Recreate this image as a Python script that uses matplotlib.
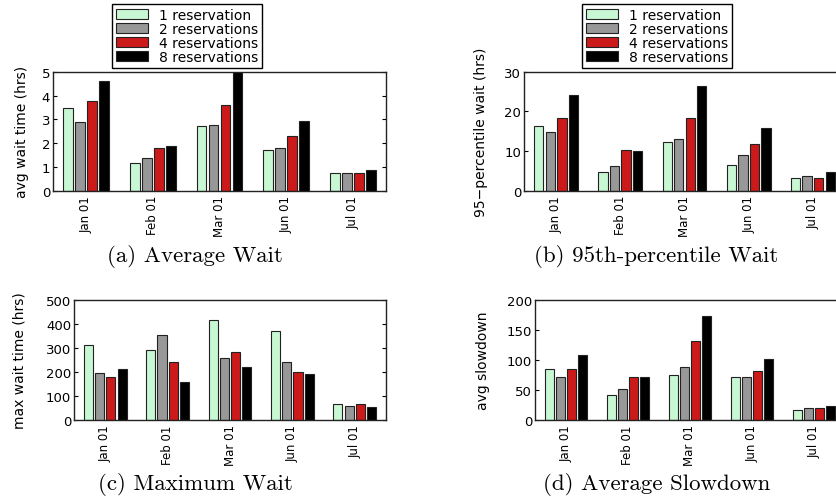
import matplotlib
matplotlib.use('Agg')
import matplotlib.pyplot as plt
import numpy as np

months = ['Jan 01', 'Feb 01', 'Mar 01', 'Jun 01', 'Jul 01']
series = ['1 reservation', '2 reservations', '4 reservations', '8 reservations']
colors = ['#c8f7d4', '#989898', '#cc1a1a', '#000000']

# one row per reservation count
avg_wait = [[3.46, 1.15, 2.73, 1.69, 0.74],
            [2.87, 1.36, 2.76, 1.79, 0.73],
            [3.78, 1.79, 3.59, 2.31, 0.74],
            [4.60, 1.88, 5.00, 2.93, 0.87]]
pct95_wait = [[16.3, 4.8, 12.3, 6.6, 3.3],
              [14.9, 6.2, 13.1, 8.9, 3.6],
              [18.4, 10.2, 18.3, 11.7, 3.2],
              [24.2, 10.1, 26.3, 15.9, 4.6]]
max_wait = [[313, 289, 415, 371, 65],
            [194, 355, 256, 240, 60],
            [177, 242, 284, 198, 65],
            [210, 159, 222, 193, 53]]
avg_slowdown = [[85, 41, 74, 71, 17],
                [72, 51, 88.5, 71, 20.5],
                [85, 71.5, 132, 81, 19.5],
                [107.5, 71.5, 173, 101, 22.5]]

W, H = 837, 502
fig = plt.figure(figsize=(W/100, H/100), dpi=100)

def px_axes(left, right, top, bottom):
    return fig.add_axes([left/W, 1-bottom/H, (right-left)/W, (bottom-top)/H])

def panel(ax, data, ymax, ystep, ylabel, labelx):
    x = np.arange(1, len(months)+1)
    pitch = 0.18
    for i, vals in enumerate(data):
        ax.bar(x + (i-1.5)*pitch, vals, width=0.145, color=colors[i],
               edgecolor='#222222', linewidth=0.8, label=series[i])
    ax.set_xlim(0.5, 5.5)
    ax.set_ylim(0, ymax)
    ax.set_yticks(np.arange(0, ymax+ystep/2, ystep))
    ax.set_xticks(x)
    ax.set_xticklabels(months, rotation=90, fontsize=8.5)
    ax.tick_params(axis='x', length=0, pad=3)
    ax.tick_params(axis='y', direction='in', length=3, right=True, labelsize=9.5, pad=2)
    for s in ax.spines.values():
        s.set_linewidth(1.0)
        s.set_color('#222222')
    ax.set_ylabel(ylabel, fontsize=10)
    ax.yaxis.set_label_coords(labelx, 0.5)

ax_a = px_axes(53, 386, 72.7, 191.7)
panel(ax_a, avg_wait, 5, 1, 'avg wait time (hrs)', -0.072)
ax_b = px_axes(524, 845, 72.7, 191.7)
panel(ax_b, pct95_wait, 30, 10, '95\u2212percentile wait (hrs)', -0.112)
ax_c = px_axes(74, 386, 300.7, 421)
panel(ax_c, max_wait, 500, 100, 'max wait time (hrs)', -0.151)
ax_d = px_axes(535, 845, 300.7, 421)
panel(ax_d, avg_slowdown, 200, 50, 'avg slowdown', -0.145)

handles, labels = ax_a.get_legend_handles_labels()
for lx in [112, 582]:
    leg = fig.legend(handles, labels, loc='upper left', bbox_to_anchor=(lx/W, 1-5/H),
                     fontsize=10, frameon=True, fancybox=False, framealpha=1,
                     borderaxespad=0, labelspacing=0, handlelength=2.3,
                     handleheight=0.72, handletextpad=0.75, borderpad=0.3)
    leg.get_frame().set_edgecolor('black')
    leg.get_frame().set_linewidth(1.0)

caps = [('(a) Average Wait', 195, 257), ('(b) 95th-percentile Wait', 656, 257),
        ('(c) Maximum Wait', 195, 485), ('(d) Average Slowdown', 657, 485)]
for t, cx, cy in caps:
    fig.text(cx/W, 1-cy/H, t, ha='center', va='center', fontsize=16.5, family='cmr10')

fig.savefig('out.png', dpi=100)
